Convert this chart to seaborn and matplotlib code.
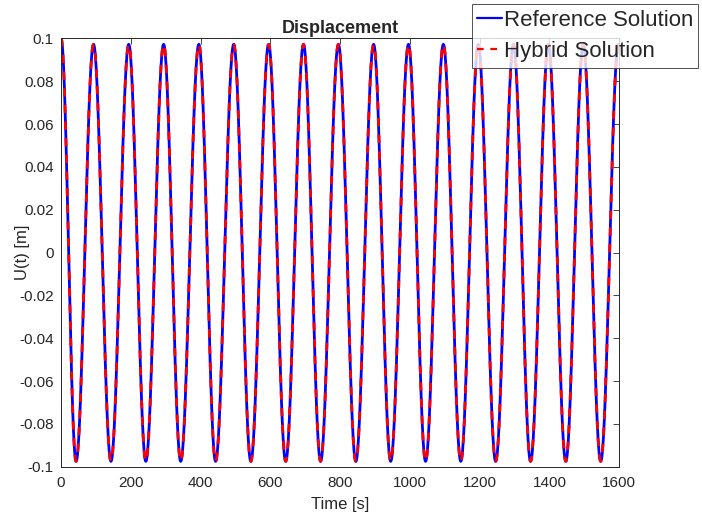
import numpy as np
import pandas as pd
import matplotlib.pyplot as plt
import seaborn as sns

# Extrema (time [s], displacement [m])
start_time = [0.0]
start_value = [0.1]
trough_times = [43, 143, 243, 343, 443, 544, 644, 744, 845, 945, 1045, 1146, 1246, 1346, 1447, 1547]
peak_times = [93, 194, 294, 395, 495, 595, 695, 795, 896, 996, 1096, 1196, 1297, 1397, 1497, 1598]
trough_value = -0.0975
peak_value = 0.0972

# Extrema sequence: start, trough, peak, trough, peak, ...
ext_t = start_time + [t for pair in zip(trough_times, peak_times) for t in pair]
ext_v = start_value + [v for pair in zip([trough_value] * len(trough_times),
                                         [peak_value] * len(peak_times)) for v in pair]


def smooth_between(ts, vs, n=40):
    # half-cosine join between consecutive extrema
    out_t, out_v = [], []
    for i in range(len(ts) - 1):
        s = np.linspace(0, 1, n, endpoint=False)
        out_t.extend(ts[i] + (ts[i + 1] - ts[i]) * s)
        out_v.extend(vs[i] + (vs[i + 1] - vs[i]) * (1 - np.cos(np.pi * s)) / 2)
    out_t.append(ts[-1])
    out_v.append(vs[-1])
    return np.array(out_t), np.array(out_v)


t, u = smooth_between(ext_t, ext_v)
df = pd.DataFrame({"time": t, "reference": u, "hybrid": u})

sns.set_style("white")
plt.rcParams["font.family"] = ["Liberation Sans", "DejaVu Sans"]

fig = plt.figure(figsize=(7.02, 5.25), dpi=100)
ax = fig.add_axes([0.087, 0.111, 0.795, 0.816])

sns.lineplot(data=df, x="time", y="reference", ax=ax, color="#0000ff",
             linewidth=2.0, label="Reference Solution", legend=False)
sns.lineplot(data=df, x="time", y="hybrid", ax=ax, color="#ff0000",
             linewidth=2.0, linestyle=(0, (3, 3)), label="Hybrid Solution", legend=False)

yticks = np.round(np.arange(-0.1, 0.1001, 0.02), 2)
ax.set_xlim(0, 1600)
ax.set_ylim(-0.1, 0.1)
ax.set_xticks(np.arange(0, 1601, 200))
ax.set_yticks(yticks)
ax.set_yticklabels([f"{v:g}" for v in yticks])
ax.tick_params(direction="in", top=True, right=True, length=4.5, width=0.6,
               labelsize=11, colors="#262626")
ax.tick_params(axis="x", pad=6.8)
ax.tick_params(axis="y", pad=5.3)
for sp in ax.spines.values():
    sp.set_color("#262626")
    sp.set_linewidth(0.7)

ax.set_xlabel("Time [s]", fontsize=12, color="#262626", labelpad=5)
ax.set_ylabel("U(t) [m]", fontsize=12, color="#262626")
ax.yaxis.set_label_coords(-0.0556, 0.5)
ax.set_title("Displacement", fontsize=13, fontweight="bold", pad=4)

handles, labels = ax.get_legend_handles_labels()
leg = fig.legend(handles, labels, loc="upper left", bbox_to_anchor=(0.672, 0.992),
                 fontsize=16, frameon=True, fancybox=False, handlelength=1.1,
                 handletextpad=0.08, borderpad=0.25, labelspacing=0.47, borderaxespad=0)
leg.get_frame().set_edgecolor("#262626")
leg.get_frame().set_linewidth(0.7)
for line in leg.get_lines():
    line.set_linewidth(1.6)

fig.savefig("out.png", dpi=100)
